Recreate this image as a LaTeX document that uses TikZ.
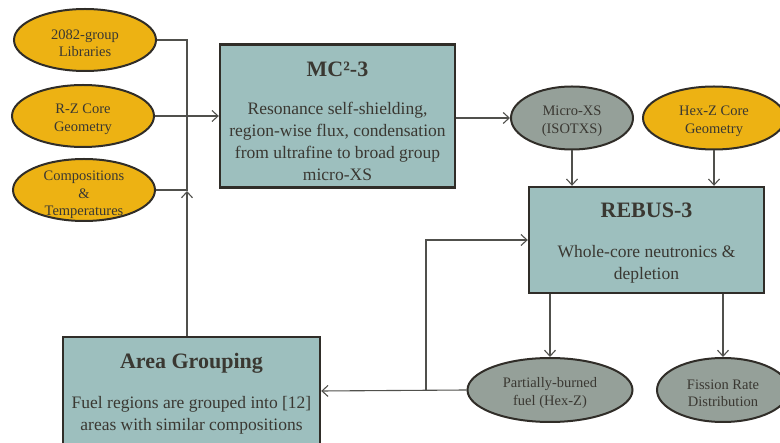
\documentclass[tikz,border=0pt]{standalone}
\usepackage{fontspec}
\setmainfont{Liberation Serif}
\usetikzlibrary{shapes.geometric,arrows.meta}
\definecolor{boxteal}{RGB}{157,191,190}
\definecolor{inorange}{RGB}{237,178,19}
\definecolor{outgray}{RGB}{149,160,153}
\definecolor{edgedark}{RGB}{48,45,40}
\definecolor{textdark}{RGB}{58,56,50}
\definecolor{linegray}{RGB}{80,80,76}
\tikzset{
	codebox/.style={draw=edgedark, line width=2.4pt, fill=boxteal, text=textdark, align=center, font=\fontsize{17.5}{22}\selectfont, inner sep=0pt},
	dataell/.style={ellipse, draw=edgedark, line width=2pt, text=textdark, align=center, font=\fontsize{14.5}{17.5}\selectfont, inner xsep=0pt, inner ysep=-8pt},
	inputell/.style={dataell, fill=inorange},
	outputell/.style={dataell, fill=outgray},
	wire/.style={linegray, line width=1.1pt},
	flow/.style={wire, -{Straight Barb[length=6pt,width=11pt]}},
}
\newcommand{\boxtitle}[2][20pt]{{\fontsize{22}{26}\selectfont\bfseries\rule{0pt}{#1}#2}}
\newcommand{\elltop}[1][16pt]{\rule{0pt}{#1}} % pushes ellipse text down a bit

\begin{document}
\begin{tikzpicture}[x=1pt,y=-1pt]
	\useasboundingbox (0,0) rectangle (780,443);

	% inputs
	\node[inputell, minimum width=142pt, minimum height=62pt] (lib) at (85,40) {\elltop 2082-group\\Libraries};
	\node[inputell, minimum width=142pt, minimum height=62pt] (rz) at (83,116) {\elltop R-Z Core\\Geometry};
	\node[inputell, minimum width=142pt, minimum height=62pt] (comp) at (84,190) {\elltop[20pt]Compositions\\\&\\Temperatures};
	\node[inputell, minimum width=142pt, minimum height=63pt] (hexz) at (714,118) {\elltop Hex-Z Core\\Geometry};

	% codes
	\node[codebox, minimum width=235pt, minimum height=143pt] (mc) at (337.5,116) {\boxtitle[26pt]{MC²-3}\\[16pt] Resonance self-shielding,\\ region-wise flux, condensation\\ from ultrafine to broad group\\ micro-XS};
	\node[codebox, minimum width=235pt, minimum height=106pt] (rebus) at (646.5,240) {\boxtitle{REBUS-3}\\[18pt] Whole-core neutronics \&\\ depletion};
	\node[codebox, minimum width=257pt, minimum height=108pt] (area) at (191.5,391) {\boxtitle{Area Grouping}\\[18pt] Fuel regions are grouped into [12]\\ areas with similar compositions};

	% outputs
	\node[outputell, minimum width=122pt, minimum height=63pt] (xs) at (572,118) {\elltop Micro-XS\\(ISOTXS)};
	\node[outputell, minimum width=165pt, minimum height=64pt] (pbf) at (550,390) {\elltop Partially-burned\\fuel (Hex-Z)};
	\node[outputell, minimum width=132pt, minimum height=64pt] (frd) at (723,390) {\elltop Fission Rate\\Distribution};

	% connectors
	\coordinate (bus) at (187,116);
	\coordinate (fb) at (426,390);
	\draw[wire] (lib.east) -| (bus);
	\draw[wire] (comp.east) -- (bus |- comp.east) -- (bus);
	\draw[flow] (bus |- area.north) -- ([yshift=-1pt]bus |- comp.east);
	\draw[flow] (rz.east) -- (mc.west);
	\draw[flow] (mc.east |- xs.west) -- (xs.west);
	\draw[flow] (xs.south) -- (xs.south |- rebus.north);
	\draw[flow] (hexz.south) -- (hexz.south |- rebus.north);
	\draw[flow] (rebus.south -| pbf.north) -- (pbf.north);
	\draw[flow] (rebus.south -| frd.north) -- (frd.north);
	\draw[flow] (pbf.west) -- (area.east);
	\draw[flow] (fb) |- (rebus.west);
\end{tikzpicture}
\end{document}
